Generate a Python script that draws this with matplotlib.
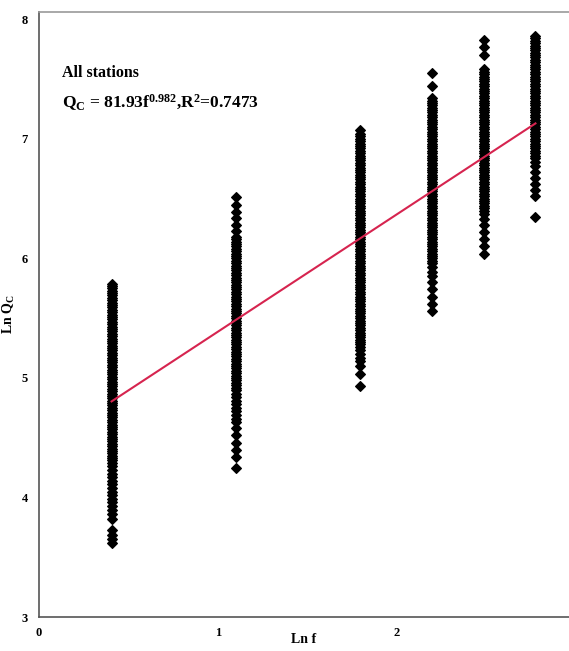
# Ln Qc vs Ln f, all stations

import numpy as np
import matplotlib.pyplot as plt

plt.rcParams['font.family'] = 'Liberation Serif'
plt.rcParams['font.weight'] = 'bold'
plt.rcParams['mathtext.fontset'] = 'custom'
plt.rcParams['mathtext.rm'] = 'Liberation Serif:bold'
plt.rcParams['mathtext.bf'] = 'Liberation Serif:bold'
plt.rcParams['mathtext.it'] = 'Liberation Serif:bold'

# frequencies (Hz)
freqs = [1.5, 3, 6, 9, 12, 16]

# Ln Qc values read per frequency column
lnqc_1_5 = [3.62, 3.65, 3.69, 3.73, 3.82, 3.86, 3.90, 3.93, 3.96, 3.99, 4.02, 4.05,
            4.08, 4.11, 4.14, 4.17, 4.20, 4.23, 4.26, 4.29, 4.31, 4.33, 4.35, 4.37,
            4.39, 4.41, 4.43, 4.45, 4.47, 4.49, 4.51, 4.53, 4.55, 4.57, 4.59, 4.61,
            4.63, 4.65, 4.67, 4.69, 4.71, 4.73, 4.75, 4.77, 4.79, 4.81, 4.83, 4.85,
            4.87, 4.89, 4.91, 4.93, 4.95, 4.97, 4.99, 5.01, 5.03, 5.05, 5.07, 5.09,
            5.11, 5.13, 5.15, 5.17, 5.19, 5.21, 5.23, 5.25, 5.27, 5.29, 5.31, 5.33,
            5.35, 5.37, 5.39, 5.41, 5.43, 5.45, 5.47, 5.49, 5.51, 5.53, 5.55, 5.57,
            5.59, 5.61, 5.63, 5.65, 5.67, 5.69, 5.71, 5.73, 5.75, 5.77, 5.79]
lnqc_3 = [4.25, 4.34, 4.40, 4.46, 4.52, 4.58, 4.63, 4.66, 4.69, 4.72, 4.75, 4.78,
          4.81, 4.84, 4.87, 4.90, 4.92, 4.94, 4.96, 4.98, 5.00, 5.02, 5.04, 5.06,
          5.08, 5.10, 5.12, 5.14, 5.16, 5.18, 5.20, 5.22, 5.24, 5.26, 5.28, 5.30,
          5.32, 5.34, 5.36, 5.38, 5.40, 5.42, 5.44, 5.46, 5.48, 5.50, 5.52, 5.54,
          5.56, 5.58, 5.60, 5.62, 5.64, 5.66, 5.68, 5.70, 5.72, 5.74, 5.76, 5.78,
          5.80, 5.82, 5.84, 5.86, 5.88, 5.90, 5.92, 5.94, 5.96, 5.98, 6.00, 6.02,
          6.04, 6.06, 6.08, 6.10, 6.12, 6.14, 6.16, 6.18, 6.23, 6.28, 6.34, 6.39,
          6.45, 6.51]
lnqc_6 = [4.93, 5.03, 5.10, 5.14, 5.17, 5.20, 5.23, 5.26, 5.28, 5.30, 5.32, 5.34,
          5.36, 5.38, 5.40, 5.42, 5.44, 5.46, 5.48, 5.50, 5.52, 5.54, 5.56, 5.58,
          5.60, 5.62, 5.64, 5.66, 5.68, 5.70, 5.72, 5.74, 5.76, 5.78, 5.80, 5.82,
          5.84, 5.86, 5.88, 5.90, 5.92, 5.94, 5.96, 5.98, 6.00, 6.02, 6.04, 6.06,
          6.08, 6.10, 6.12, 6.14, 6.16, 6.18, 6.20, 6.22, 6.24, 6.26, 6.28, 6.30,
          6.32, 6.34, 6.36, 6.38, 6.40, 6.42, 6.44, 6.46, 6.48, 6.50, 6.52, 6.54,
          6.56, 6.58, 6.60, 6.62, 6.64, 6.66, 6.68, 6.70, 6.72, 6.74, 6.76, 6.78,
          6.80, 6.82, 6.84, 6.86, 6.88, 6.90, 6.92, 6.94, 6.96, 6.98, 7.00, 7.02,
          7.04, 7.07]
lnqc_9 = [5.56, 5.62, 5.68, 5.74, 5.80, 5.85, 5.89, 5.93, 5.96, 5.98, 6.00, 6.02,
          6.04, 6.06, 6.08, 6.10, 6.12, 6.14, 6.16, 6.18, 6.20, 6.22, 6.24, 6.26,
          6.28, 6.30, 6.32, 6.34, 6.36, 6.38, 6.40, 6.42, 6.44, 6.46, 6.48, 6.50,
          6.52, 6.54, 6.56, 6.58, 6.60, 6.62, 6.64, 6.66, 6.68, 6.70, 6.72, 6.74,
          6.76, 6.78, 6.80, 6.82, 6.84, 6.86, 6.88, 6.90, 6.92, 6.94, 6.96, 6.98,
          7.00, 7.02, 7.04, 7.06, 7.08, 7.10, 7.12, 7.14, 7.16, 7.18, 7.20, 7.22,
          7.24, 7.26, 7.28, 7.30, 7.32, 7.34, 7.44, 7.55]
lnqc_12 = [6.04, 6.10, 6.16, 6.22, 6.28, 6.33, 6.37, 6.40, 6.42, 6.44, 6.46, 6.48,
           6.50, 6.52, 6.54, 6.56, 6.58, 6.60, 6.62, 6.64, 6.66, 6.68, 6.70, 6.72,
           6.74, 6.76, 6.78, 6.80, 6.82, 6.84, 6.86, 6.88, 6.90, 6.92, 6.94, 6.96,
           6.98, 7.00, 7.02, 7.04, 7.06, 7.08, 7.10, 7.12, 7.14, 7.16, 7.18, 7.20,
           7.22, 7.24, 7.26, 7.28, 7.30, 7.32, 7.34, 7.36, 7.38, 7.40, 7.42, 7.44,
           7.46, 7.48, 7.50, 7.52, 7.54, 7.56, 7.58, 7.70, 7.77, 7.83]
lnqc_16 = [6.35, 6.52, 6.57, 6.62, 6.67, 6.72, 6.77, 6.81, 6.84, 6.86, 6.88, 6.90,
           6.92, 6.94, 6.96, 6.98, 7.00, 7.02, 7.04, 7.06, 7.08, 7.10, 7.12, 7.14,
           7.16, 7.18, 7.20, 7.22, 7.24, 7.26, 7.28, 7.30, 7.32, 7.34, 7.36, 7.38,
           7.40, 7.42, 7.44, 7.46, 7.48, 7.50, 7.52, 7.54, 7.56, 7.58, 7.60, 7.62,
           7.64, 7.66, 7.68, 7.70, 7.72, 7.74, 7.76, 7.78, 7.80, 7.82, 7.84, 7.86]
columns = [lnqc_1_5, lnqc_3, lnqc_6, lnqc_9, lnqc_12, lnqc_16]

# fit Qc = Q0 * f^n
Q0 = 81.93
n = 0.982

fig = plt.figure(figsize=(5.69, 6.51), dpi=100)
ax = fig.add_axes([0.0685, 0.052, 0.9315, 0.9295])

for f, vals in zip(freqs, columns):
    x = np.full(len(vals), np.log(f))
    ax.plot(x, vals, linestyle='none', marker='D', markersize=4.6,
            color='black', markeredgewidth=0.8)

lnf = np.log([freqs[0], freqs[-1]])
ax.plot(lnf, np.log(Q0) + n * lnf, color='#d6244f', lw=1.5)

ax.set_xlim(0, 2.96)
ax.set_ylim(3, 8.06)
ax.set_xticks([0, 1, 2])
ax.set_yticks([3, 4, 5, 6, 7, 8])
ax.tick_params(length=0, labelsize=9)
ax.tick_params(axis='y', pad=8)
ax.tick_params(axis='x', pad=7)

ax.spines['right'].set_visible(False)
ax.spines['top'].set_color('#9a9a9a')
ax.spines['left'].set_color('#555555')
ax.spines['bottom'].set_color('#555555')
for s in ['top', 'left', 'bottom']:
    ax.spines[s].set_linewidth(1.2)

ax.set_xlabel('Ln f', fontsize=10, fontweight='bold', labelpad=-4)
ax.set_ylabel(r'Ln Q$_\mathregular{C}$', fontsize=10, fontweight='bold', labelpad=3)

ax.text(0.13, 7.55, 'All stations', fontsize=11.5, fontweight='bold', va='center')
ax.text(0.13, 7.30, r'Q$_\mathregular{C}$ = 81.93f$^\mathregular{0.982}$,R$^\mathregular{2}$=0.7473',
        fontsize=12.5, fontweight='bold', va='center')

fig.savefig('out.png', dpi=100)
